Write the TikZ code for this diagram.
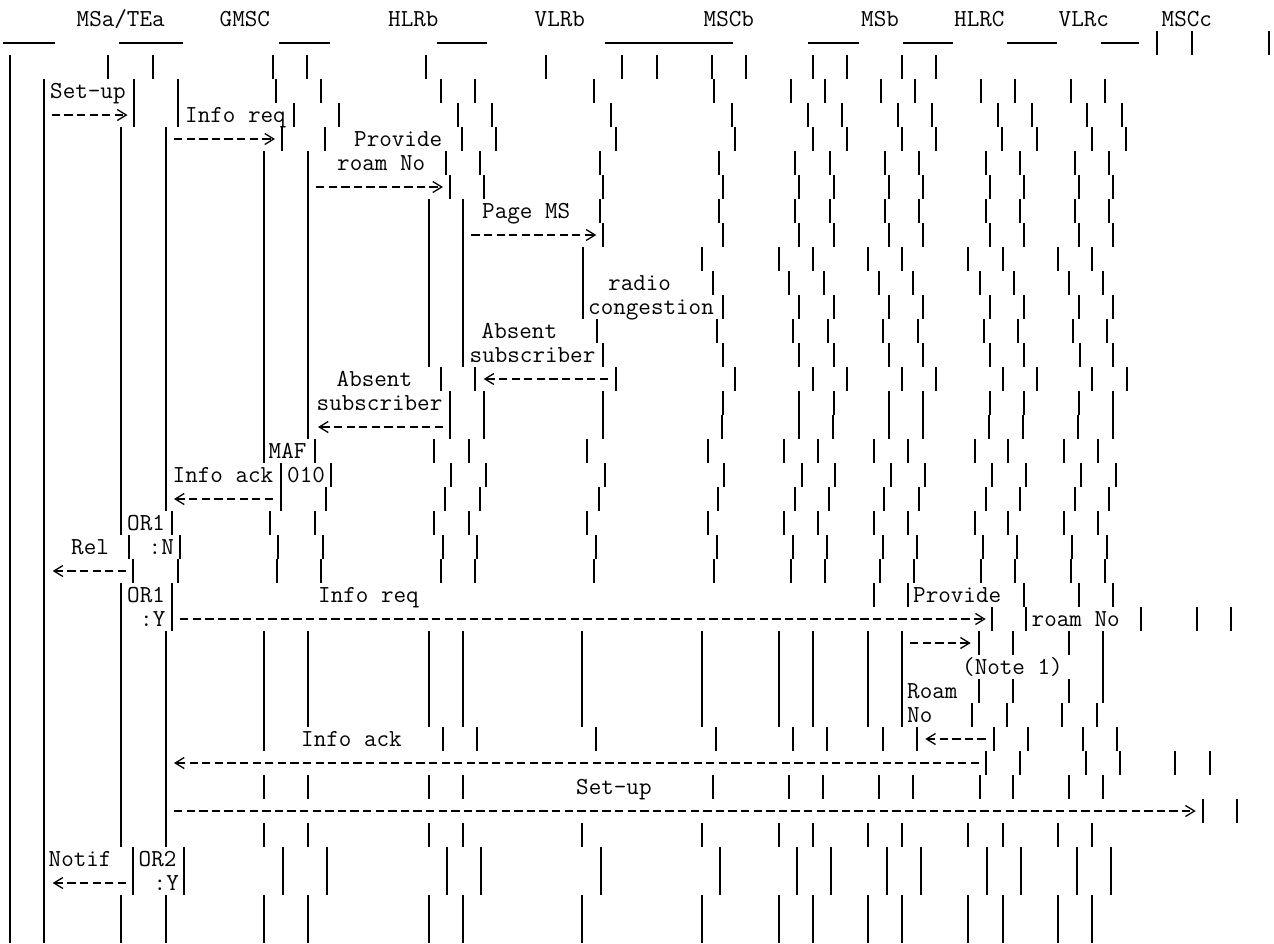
\documentclass[tikz,border=0pt]{standalone}
\usepackage{fontspec}
\usetikzlibrary{arrows.meta}
\tikzset{
  lifebar/.style={line width=2pt},
  headbar/.style={line width=1.6pt},
  msgarrow/.style={-{Straight Barb[length=9pt,width=11pt]}, line width=1.3pt, dash pattern=on 8.3pt off 4.3pt},
  lbl/.style={font=\ttfamily\fontsize{24.4}{24}\selectfont, inner sep=0pt, anchor=base west}
}

\begin{document}
\begin{tikzpicture}[x=1pt, y=-1pt]
  \useasboundingbox (0,0) rectangle (1274,943);
  % entity names
  \node[lbl] (msa) at (76.5,26) {MSa/TEa};
  \node[lbl] (gmsc) at (219.5,26) {GMSC};
  \node[lbl] (hlrb) at (388,26) {HLRb};
  \node[lbl] (vlrb) at (534.5,26) {VLRb};
  \node[lbl] (mscb) at (703.5,26) {MSCb};
  \node[lbl] (msb) at (861,26) {MSb};
  \node[lbl] (hlrc) at (954,26) {HLRC};
  \node[lbl] (vlrc) at (1058.5,26) {VLRc};
  \node[lbl] (mscc) at (1161.5,26) {MSCc};
  \foreach \a/\b in {3/55, 119/182.7, 278.7/329.7, 437/487.3, 605.3/733.3, 808.3/858.7, 902.7/952.7, 1006.7/1057.3, 1100.7/1139}
    \draw[headbar] (\a,43) -- (\b,43);

  % lifelines, row by row
  \draw[lifebar] (10,55) -- (10,943);
  \draw[lifebar] (44.3,79) -- (44.3,943);
  \foreach \r/\xs in {
    0/{1157.3,1192.3,1269},
    1/{108.3,153.3,272.7,306.7,426.3,545.7,622.3,656.7,712,746,812.7,846.7,902,936},
    2/{134,178.3,276,321.3,440.7,474.7,594,714.3,791,825,881,914.7,980.7,1015,1070.7,1104.7},
    3/{134,178.3,294,338.7,458,492,611.3,731.7,807.7,842,897.7,931.7,998,1032.3,1087.3,1121.7},
    4/{121,165.7,281.7,325.3,462,496.3,615.7,735.3,812.7,846.7,902,936,1002.3,1036.7,1091.7,1126.3},
    5/{121,165.7,264.3,308.3,445.7,480.3,599.7,718.7,795.3,830,885.3,919.3,985.7,1019.7,1074.7,1109},
    6/{121,165.7,264.3,308.3,449.7,483.7,603,723.3,799.3,833.7,889.3,923.3,990,1024,1079,1113.3},
    7/{121,165.7,264.3,308.3,428.7,463,599.7,718.7,795.3,830,885.3,919.3,985.7,1019.7,1074.7,1109},
    8/{121,165.7,264.3,308.3,428.7,463,603,723.3,799.3,833.7,889.3,923.3,990,1024,1079,1113.3},
    9/{121,165.7,264.3,308.3,428.7,463,583,701.7,778.7,812.7,867.7,902,968.3,1003,1058.3,1092.3},
    10/{121,165.7,264.3,308.3,428.7,463,583,712.7,789.3,823.7,878.7,912.7,980,1014,1069,1103},
    11/{121,165.7,264.3,308.3,428.7,463,583,723.3,799.3,833.7,889.3,923.3,990,1024,1079,1113.3},
    12/{121,165.7,264.3,308.3,428.7,463,597.3,716.7,793.3,827.7,882.7,917.7,984,1018,1073,1107.3},
    13/{121,165.7,264.3,308.3,428.7,463,603,723.3,799.3,834.3,889.3,923.3,990,1024,1079.7,1113.3},
    14/{121,165.7,264.3,308.3,441.3,475.3,616.3,735.3,812.7,846.7,902,936,1003,1036.7,1092.3,1126.7},
    15/{121,165.7,264.3,308.3,450.3,483.7,603,722.7,799.3,833.7,889.3,923.3,989.7,1024,1079,1113.3},
    16/{121,165.7,264.3,308.3,450.3,483.7,603,722,798.7,833.3,888.7,922.7,989,1023.3,1078.3,1113},
    17/{121,165.7,264.3,315,434,468.7,587.3,707.7,784.3,818.3,874.3,907.7,974.7,1008.3,1064,1098.3},
    18/{121,165.7,281,330.7,451.3,485.7,604.7,724.3,801.7,835.3,891,925.3,991.7,1025.7,1081.3,1115.7},
    19/{121,165.7,281,326.3,444.7,479.7,599,718.3,795,829.3,884.3,918.7,985.7,1019.7,1074.7,1109},
    20/{121,172.3,270,315,434,468.7,587.3,707.7,784.3,818.3,874.3,907.7,974.7,1008.3,1064,1098.3},
    21/{129.3,180,278.3,323,443,477.3,595.7,716.7,793.3,827,882.7,916.7,983.3,1017.3,1072.3,1106.7},
    22/{133.3,178.3,276.7,321.3,440.7,474.7,594,714.3,791,825,880.3,914.3,981.3,1015,1070.7,1105},
    23/{121,172.3,874.3,907.7,1024,1079,1113.3},
    24/{121,172.3,991.7,1025.7,1140.7,1196.7,1230.7},
    25/{121,165.7,264.3,308.3,428.7,463,582.3,701.7,778.7,812.7,867.7,902,979,1013.3,1069,1103},
    26/{121,165.7,264.3,308.3,428.7,463,582.3,701.7,778.7,812.7,867.7,902,1103},
    27/{121,165.7,264.3,308.3,428.7,463,582.3,701.7,778.7,812.7,867.7,902,979,1013.3,1069,1103},
    28/{121,165.7,264.3,308.3,428.7,463,582.3,701.7,778.7,812.7,867.7,902,972.3,1006.7,1062.3,1096.7},
    29/{121,165.7,264.3,443,477.3,596.3,716,793.3,827,882.7,917,994,1028,1083.3,1117.3},
    30/{121,165.7,985.7,1019.7,1085.7,1119.7,1175,1209.7},
    31/{121,165.7,264.3,308.3,428.7,463,712.7,789.3,823.3,878.7,912.7,979.7,1013.3,1069,1103},
    32/{121,165.7,1203.3,1237.3},
    33/{121,165.7,264.3,308.3,428.7,463,582.3,701.7,778.7,812.7,867.7,902,968.3,1003,1058.3,1092.3},
    34/{133.3,184.3,283.3,327.3,447,481.3,600.7,720,797,831,886.7,921,986.7,1020.7,1076.7,1110.7},
    35/{133.3,184.3,283.3,327.3,447,481.3,600.7,720,797,831,886.7,921,986.7,1020.7,1076.7,1110.7},
    36/{121,165.7,264.3,308.3,428.7,463,582.3,701.7,778.7,812.7,867.7,902,968.3,1003,1058.3,1092.3},
    37/{121,165.7,264.3,308.3,428.7,463,582.3,701.7,778.7,812.7,867.7,902,968.3,1003,1058.3,1092.3}}{
    \foreach \x in \xs
      \draw[lifebar] (\x,{31+24*\r}) -- ++(0,24);
  }

  % message texts
  \node[lbl] (setupA) at (50,98) {Set-up};
  \node[lbl] (inforeqA) at (185,122) {Info req};
  \node[lbl] (provA) at (354,146) {Provide};
  \node[lbl] (roamA) at (337,170) {roam No};
  \node[lbl] (page) at (482,218) {Page MS};
  \node[lbl] (radio) at (608,290) {radio};
  \node[lbl] (congest) at (588,314) {congestion};
  \node[lbl] (absentV) at (481.5,338) {Absent};
  \node[lbl] (subscrV) at (469.5,362) {subscriber};
  \node[lbl] (absentH) at (336.5,386) {Absent};
  \node[lbl] (subscrH) at (316.5,410) {subscriber};
  \node[lbl] (maf) at (268.5,458) {MAF};
  \node[lbl] (infoackA) at (172.5,482) {Info ack};
  \node[lbl] (code) at (287,482) {010};
  \node[lbl] (orA) at (127,530) {OR1};
  \node[lbl] (rel) at (71,554) {Rel};
  \node[lbl] (ansN) at (148.5,554) {:N};
  \node[lbl] (orB) at (127,602) {OR1};
  \node[lbl] (inforeqB) at (318,602) {Info req};
  \node[lbl] (provB) at (913,602) {Provide};
  \node[lbl] (ansYA) at (140,626) {:Y};
  \node[lbl] (roamB) at (1031.5,626) {roam No};
  \node[lbl] (note) at (962,674) {(Note 1)};
  \node[lbl] (roamC) at (907,698) {Roam};
  \node[lbl] (noC) at (907,722) {No};
  \node[lbl] (infoackB) at (301,746) {Info ack};
  \node[lbl] (setupB) at (576,794) {Set-up};
  \node[lbl] (notif) at (48.5,866) {Notif};
  \node[lbl] (orC) at (138.5,866) {OR2};
  \node[lbl] (ansYB) at (153.5,890) {:Y};

  % message arrows
  \coordinate (setupS) at (51.7,115);   \coordinate (setupE) at (127.5,115);
  \coordinate (inforeqS) at (174,139);  \coordinate (inforeqE) at (275,139);
  \coordinate (provS) at (316,187);     \coordinate (provE) at (443,187);
  \coordinate (pageS) at (471.3,235);   \coordinate (pageE) at (596.3,235);
  \coordinate (absVS) at (608,379);     \coordinate (absVE) at (483.7,379);
  \coordinate (absHS) at (443,427);     \coordinate (absHE) at (318,427);
  \coordinate (ackAS) at (273,499);     \coordinate (ackAE) at (174,499);
  \coordinate (relS) at (126,571);      \coordinate (relE) at (52.7,571);
  \coordinate (reqBS) at (180,619);     \coordinate (reqBE) at (985.7,619);
  \coordinate (provBS) at (910,643);    \coordinate (provBE) at (970.7,643);
  \coordinate (roamS) at (985.7,739);   \coordinate (roamE) at (925.3,739);
  \coordinate (ackBS) at (979,763);     \coordinate (ackBE) at (174,763);
  \coordinate (setupBS) at (174,811);   \coordinate (setupBE) at (1195.7,811);
  \coordinate (notifS) at (126,883);    \coordinate (notifE) at (52.7,883);
  \draw[msgarrow] (setupS) -- (setupE);
  \draw[msgarrow] (inforeqS) -- (inforeqE);
  \draw[msgarrow] (provS) -- (provE);
  \draw[msgarrow] (pageS) -- (pageE);
  \draw[msgarrow] (absVS) -- (absVE);
  \draw[msgarrow] (absHS) -- (absHE);
  \draw[msgarrow] (ackAS) -- (ackAE);
  \draw[msgarrow] (relS) -- (relE);
  \draw[msgarrow] (reqBS) -- (reqBE);
  \draw[msgarrow] (provBS) -- (provBE);
  \draw[msgarrow] (roamS) -- (roamE);
  \draw[msgarrow] (ackBS) -- (ackBE);
  \draw[msgarrow] (setupBS) -- (setupBE);
  \draw[msgarrow] (notifS) -- (notifE);
\end{tikzpicture}
\end{document}
